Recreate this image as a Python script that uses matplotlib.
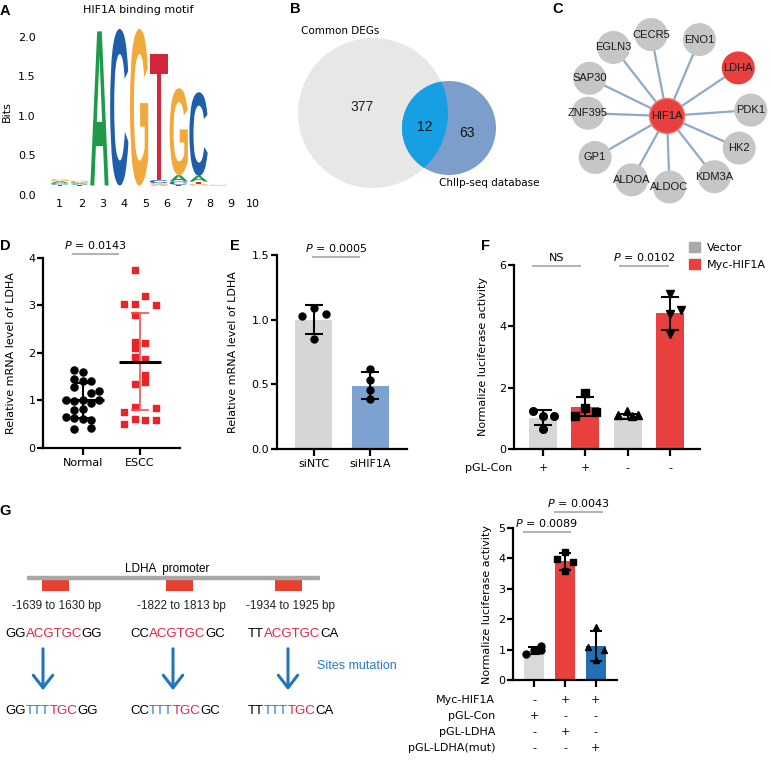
import matplotlib.pyplot as plt
import numpy as np
from matplotlib.patches import Circle, Rectangle, PathPatch, Patch
from matplotlib.textpath import TextPath
from matplotlib.font_manager import FontProperties
from matplotlib.transforms import Affine2D

# ---------------- data ----------------
# A: HIF1A binding motif (bits per letter, positions 1-10)
motif_pos = np.arange(1, 11)
motif_A = [0.025, 0.015, 1.95, 0, 0, 0.01, 0.08, 0.07, 0.003, 0]
motif_C = [0.02, 0.015, 0, 1.98, 0, 0.04, 0.04, 1.06, 0.003, 0]
motif_G = [0.025, 0.02, 0, 0, 1.98, 0.02, 1.10, 0.02, 0.003, 0]
motif_T = [0.01, 0.01, 0, 0, 0, 1.60, 0.01, 0.03, 0.003, 0]
motif_floor = 0.12

# B: venn
venn_counts = [377, 12, 63]  # DEGs only, overlap, ChIP only
venn_names = ['Common DEGs', 'Chllp-seq database']

# C: network
hub = 'HIF1A'
net_nodes = ['CECR5', 'ENO1', 'LDHA', 'PDK1', 'HK2', 'KDM3A', 'ALDOC',
             'ALDOA', 'GP1', 'ZNF395', 'SAP30', 'EGLN3']
net_hits = ['LDHA']

# D: LDHA mRNA, normal vs ESCC
d_groups = ['Normal', 'ESCC']
d_normal = [1.64, 1.61, 1.45, 1.41, 1.41, 1.29, 1.20, 1.15, 1.02, 1.00, 1.00,
            0.98, 0.94, 0.83, 0.80, 0.66, 0.64, 0.62, 0.58, 0.42, 0.39]
d_escc = [3.75, 3.21, 3.04, 3.04, 3.01, 2.80, 2.24, 2.22, 2.10, 1.91, 1.87,
          1.54, 1.34, 1.38, 0.87, 0.85, 0.76, 0.51, 0.61, 0.59, 0.59]
d_p = '0.0143'

# E: siRNA
e_groups = ['siNTC', 'siHIF1A']
e_mean = [1.00, 0.49]
e_sd = [0.11, 0.107]
e_pts = [[1.03, 1.09, 1.04, 0.85], [0.62, 0.535, 0.46, 0.385]]
e_p = '0.0005'

# F: luciferase, pGL-Con
f_series = ['Vector', 'Myc-HIF1A', 'Vector', 'Myc-HIF1A']
f_pglcon = ['+', '+', '-', '-']
f_mean = [1.02, 1.37, 1.05, 4.42]
f_sd = [0.24, 0.31, 0.08, 0.53]
f_pts = [[1.24, 1.09, 1.09, 0.65], [1.82, 1.35, 1.09, 1.21],
         [1.11, 1.24, 1.09, 1.11], [5.04, 4.39, 4.53, 3.74]]
f_p = ['NS', '0.0102']

# G: promoter sites + luciferase
site_labels = ['-1639 to 1630 bp', '-1822 to 1813 bp', '-1934 to 1925 bp']
wt_seqs = ['GGACGTGCGG', 'CCACGTGCGC', 'TTACGTGCCA']
mut_seqs = ['GGTTTTGCGG', 'CCTTTTGCGC', 'TTTTTTGCCA']
g_rows = ['Myc-HIF1A', 'pGL-Con', 'pGL-LDHA', 'pGL-LDHA(mut)']
g_signs = [['-', '+', '+'], ['+', '-', '-'], ['-', '+', '-'], ['-', '-', '+']]
g_mean = [0.97, 3.90, 1.12]
g_sd = [0.12, 0.27, 0.48]
g_pts = [[0.86, 0.99, 1.12, 1.00], [4.22, 3.97, 3.87, 3.58], [1.74, 1.08, 0.99, 0.66]]
g_p = ['0.0089', '0.0043']

# ---------------- figure ----------------
W, H = 771, 760
plt.rcParams['font.family'] = 'DejaVu Sans'
plt.rcParams['font.size'] = 8
plt.rcParams['mathtext.fontset'] = 'dejavusans'
fig = plt.figure(figsize=(W / 100, H / 100), dpi=100)

# overlay in pixel coords for drawings / annotations
ov = fig.add_axes([0, 0, 1, 1])
ov.set_xlim(0, W)
ov.set_ylim(H, 0)
ov.axis('off')


def px_axes(l, t, r, b):
    return fig.add_axes([l / W, 1 - b / H, (r - l) / W, (b - t) / H])


ARIAL = 'Liberation Sans'
GRAY = '#d6d6d6'
RED = '#e8403e'
LW = 1.6

for lab, x, y in [('A', 5, 11), ('B', 295, 9), ('C', 558, 9), ('D', 5, 246),
                  ('E', 235, 246), ('F', 485, 246), ('G', 5, 511)]:
    ov.text(x, y, lab, fontsize=10.5, fontweight='bold', family=ARIAL,
            ha='center', va='center')

# ---- A: sequence logo ----
axa = px_axes(40, 29, 258, 195)
logo_font = FontProperties(family=ARIAL, weight='bold')
logo_col = {'A': '#1f9a4b', 'C': '#1f5ea8', 'G': '#f2a93b', 'T': '#d4263b'}


def draw_letter(ax, ch, x, y, w, h, color):
    tp = TextPath((0, 0), ch, size=1, prop=logo_font)
    bb = tp.get_extents()
    tr = (Affine2D().translate(-bb.x0, -bb.y0)
          .scale(w / bb.width, h / bb.height).translate(x - w / 2, y))
    ax.add_patch(PathPatch(tr.transform_path(tp), fc=color, ec='none'))


for i, p in enumerate(motif_pos):
    stack = sorted([('A', motif_A[i]), ('C', motif_C[i]),
                    ('G', motif_G[i]), ('T', motif_T[i])], key=lambda s: s[1])
    y0 = motif_floor
    for ch, h in stack:
        if h > 0:
            draw_letter(axa, ch, p, y0, 0.92, h, logo_col[ch])
            y0 += h
axa.set_xlim(0, 11)
axa.set_ylim(0, 2.1)
axa.set_yticks([0, 0.5, 1.0, 1.5, 2.0], ['0.0', '0.5', '1.0', '1.5', '2.0'])
axa.set_xticks(1 + (motif_pos - 1) * 1.08, [str(p) for p in motif_pos])
axa.tick_params(length=0, labelsize=8, pad=3)
for s in axa.spines.values():
    s.set_visible(False)
axa.patch.set_visible(False)
axa.set_ylabel('Bits', fontsize=8)
axa.yaxis.set_label_coords(-0.13, 0.5)
ov.text(138, 10, 'HIF1A binding motif', ha='center', va='center', fontsize=8)

# ---- B: venn ----
big = Circle((373, 113), 75, fc='#e7e7e7', ec='none')
ov.add_patch(big)
ov.add_patch(Circle((449, 128), 47, fc='#7b9ecb', ec='none'))
inter = Circle((449, 128), 47, fc='#16a0e3', ec='none')
ov.add_patch(inter)
inter.set_clip_path(big)
ov.text(362, 107, str(venn_counts[0]), ha='center', va='center', fontsize=10, family=ARIAL, color='#222')
ov.text(425, 127, str(venn_counts[1]), ha='center', va='center', fontsize=10, family=ARIAL, color='#111')
ov.text(467, 133, str(venn_counts[2]), ha='center', va='center', fontsize=10, family=ARIAL, color='#111')
ov.text(340, 31, venn_names[0], ha='center', va='center', fontsize=7.5)
ov.text(489, 183, venn_names[1], ha='center', va='center', fontsize=7.5)

# ---- C: network ----
cx, cy = 667, 116
net_angle = [101, 67, 34, 4, -24, -52, -88, -119, -150, 178, 154, 128]
net_dist = [83, 83, 86, 84, 79, 77, 71, 73, 83, 79, 86, 87]
for name, a, r in zip(net_nodes, net_angle, net_dist):
    nx = cx + r * np.cos(np.radians(a))
    ny = cy - r * np.sin(np.radians(a))
    ov.plot([cx, nx], [cy, ny], color='#8ea9c9', lw=1.6, zorder=1)
    col = RED if name in net_hits else '#c6c6c6'
    ov.add_patch(Circle((nx, ny), 16.5, fc=col, ec='none', zorder=2))
    ov.text(nx, ny, name, ha='center', va='center', fontsize=8, family=ARIAL,
            color='#1a1a1a', zorder=3)
ov.add_patch(Circle((cx, cy), 17.5, fc=RED, ec='#f07a70', lw=1, zorder=2))
ov.text(cx, cy, hub, ha='center', va='center', fontsize=8, family=ARIAL,
        color='#1a1a1a', zorder=3)


# ---- helpers for GraphPad style panels ----
def prism(ax, ymax, yticks, ylabels, xt, xl, lab_x):
    for s in ['top', 'right']:
        ax.spines[s].set_visible(False)
    for s in ['left', 'bottom']:
        ax.spines[s].set_linewidth(LW)
    ax.spines['left'].set_bounds(0, ymax)
    ax.set_ylim(0, ymax)
    ax.set_yticks(yticks, ylabels)
    ax.set_xticks(xt, xl)
    ax.tick_params(axis='y', width=LW, length=4, labelsize=8, pad=1.5)
    ax.tick_params(axis='x', width=LW, length=5, labelsize=8, pad=2.5)
    ax.patch.set_visible(False)
    ax.yaxis.set_label_coords(lab_x, 0.5)


def pbar(x0, x1, y, label):
    ov.plot([x0, x1], [y, y], color='#b4b4b4', lw=1.5)
    ov.text((x0 + x1) / 2, y - 3, label, ha='center', va='bottom', fontsize=8)


# ---- D ----
axd = px_axes(43, 258, 180, 448)
axd.set_xlim(-0.7, 1.7)
n_jit = [-0.15, 0, -0.15, 0, 0.14, -0.15, 0.28, 0.14, -0.29, 0, 0.28,
         -0.15, 0.14, 0, -0.15, -0.29, -0.15, 0, 0.14, 0.14, -0.15]
e_jit = [-0.09, 0.09, -0.28, -0.09, 0.28, -0.09, -0.09, 0.09, -0.09, -0.09, 0.09,
         0.09, -0.09, 0.09, -0.09, 0.28, -0.28, -0.28, -0.09, 0.09, 0.28]
axd.scatter(np.array(n_jit), d_normal, s=26, marker='o', color='black', zorder=3, clip_on=False)
axd.scatter(1 + np.array(e_jit), d_escc, s=20, marker='s', color='#e8232a', zorder=3, clip_on=False)
for x, vals, col, lw in [(0, d_normal, 'black', 1.5), (1, d_escc, '#e85555', 1.2)]:
    m, sd = np.mean(vals), np.std(vals, ddof=1)
    axd.errorbar(x, m, yerr=sd, color=col, lw=lw, capsize=6.5, capthick=lw, zorder=4)
    axd.plot([x - 0.36, x + 0.36], [m, m], color='black', lw=2.2, zorder=5, solid_capstyle='butt')
prism(axd, 4, [0, 1, 2, 3, 4], ['0', '1', '2', '3', '4'], [0, 1], d_groups, -0.2)
axd.set_ylabel('Relative mRNA level of LDHA', fontsize=8)
pbar(73, 118, 254, '$P$ = ' + d_p)


# ---- bar panel helper ----
def bars(ax, means, sds, pts, colors, markers, jit, width, ms, cap):
    x = np.arange(len(means))
    ax.bar(x, means, width=width, color=colors, zorder=1)
    for i in x:
        ax.errorbar(i, means[i], yerr=sds[i], color='black', lw=1.5,
                    capsize=cap, capthick=1.5, zorder=3)
        ax.plot(i + np.array(jit[i]), pts[i], ls='none', marker=markers[i],
                ms=ms, color='black', zorder=4, clip_on=False)


# ---- E ----
axe = px_axes(277, 255, 407, 449)
axe.set_xlim(-0.66, 1.66)
bars(axe, e_mean, e_sd, e_pts, [GRAY, '#7ca2d2'], ['o', 'o'],
     [[-0.21, 0, 0.21, 0], [0, 0, 0, 0]], 0.66, 5, 6.5)
prism(axe, 1.5, [0, 0.5, 1.0, 1.5], ['0.0', '0.5', '1.0', '1.5'], [0, 1], e_groups, -0.3)
axe.set_ylabel('Relative mRNA level of LDHA', fontsize=8)
pbar(313, 359, 257, '$P$ = ' + e_p)

# ---- F ----
axf = px_axes(514, 265, 700, 449)
axf.set_xlim(-0.69, 3.71)
f_cols = [GRAY if s == 'Vector' else RED for s in f_series]
bars(axf, f_mean, f_sd, f_pts, f_cols, ['o', 's', '^', 'v'],
     [[-0.24, 0, 0.25, 0], [0, 0, -0.24, 0.26], [-0.24, -0.02, 0.1, 0.25], [0, 0, 0.26, 0]],
     0.66, 5.5, 6.5)
prism(axf, 6, [0, 2, 4, 6], ['0', '2', '4', '6'], [0, 1, 2, 3], ['', '', '', ''], -0.14)
axf.set_ylabel('Normalize luciferase activity', fontsize=8)
for i, s in enumerate(f_pglcon):
    axf.text(i, -0.105, s, transform=axf.get_xaxis_transform(), ha='center', va='center', fontsize=8)
axf.text(-0.01, -0.105, 'pGL-Con', transform=axf.transAxes, ha='right', va='center', fontsize=8)
pbar(533, 580, 266, f_p[0])
pbar(620, 668, 266, '$P$ = ' + f_p[1])
fig.legend(handles=[Patch(color='#a9a9a9', label='Vector'), Patch(color=RED, label='Myc-HIF1A')],
           loc='upper left', bbox_to_anchor=(689 / W, 1 - 242 / H), frameon=False,
           handlelength=1.0, handleheight=1.0, handletextpad=0.6, labelspacing=0.6,
           fontsize=8, borderaxespad=0, borderpad=0)

# ---- G right ----
axg = px_axes(513, 528, 617, 680)
axg.set_xlim(-0.68, 2.68)
bars(axg, g_mean, g_sd, g_pts, ['#d9d9d9', RED, '#2170b5'], ['o', 's', '^'],
     [[-0.25, 0, 0.24, 0.24], [0, -0.25, 0.25, 0], [0, -0.26, 0.25, 0]],
     0.65, 5, 4.5)
prism(axg, 5, [0, 1, 2, 3, 4, 5], ['0', '1', '2', '3', '4', '5'], [0, 1, 2], ['', '', ''], -0.2)
axg.set_ylabel('Normalize luciferase activity', fontsize=8)
for r, (name, signs) in enumerate(zip(g_rows, g_signs)):
    yy = -0.13 - r * 0.106
    axg.text(-0.17, yy, name, transform=axg.transAxes, ha='right', va='center', fontsize=8)
    for i, s in enumerate(signs):
        axg.text(i, yy, s, transform=axg.get_xaxis_transform(), ha='center', va='center', fontsize=8)
pbar(524, 570, 532, '$P$ = ' + g_p[0])
pbar(555, 602, 512, '$P$ = ' + g_p[1])

# ---- G left: promoter diagram ----
ov.plot([27, 320], [578, 578], color='#a8a8a8', lw=3.2, solid_capstyle='butt')
ov.text(167, 569, 'LDHA  promoter', ha='center', va='center', fontsize=8.5, family=ARIAL)
SEQ_RED, SEQ_BLUE = '#e3233f', '#2a7ac4'
site_x = [55, 179, 288]
seq_x = [5, 130, 248]


def seq_text(x, y, parts):
    t = ov.text(x, y, parts[0][0], color=parts[0][1], ha='left', va='bottom',
                fontsize=9.5, family=ARIAL)
    for s, c in parts[1:]:
        t = ov.annotate(s, xy=(1, 0), xycoords=t, ha='left', va='bottom',
                        color=c, fontsize=9.5, family=ARIAL)


for k in range(3):
    ov.add_patch(Rectangle((site_x[k] - 13.5, 580), 27, 11, fc='#e8402e', ec='none'))
    ov.text(site_x[k] + 2, 606, site_labels[k], ha='center', va='center', fontsize=8.5,
            family=ARIAL, color='#222')
    w, m = wt_seqs[k], mut_seqs[k]
    seq_text(seq_x[k], 640, [(w[:2], 'black'), (w[2:8], SEQ_RED), (w[8:], 'black')])
    seq_text(seq_x[k], 717, [(m[:2], 'black'), (m[2:5], SEQ_BLUE), (m[5:8], SEQ_RED), (m[8:], 'black')])
    ax_x = [43, 173, 288][k]
    ov.annotate('', xy=(ax_x, 693), xytext=(ax_x, 646),
                arrowprops=dict(arrowstyle='->,head_length=0.45,head_width=0.35',
                                color='#2474b8', lw=2.2, mutation_scale=20))
ov.text(317, 666, 'Sites mutation', ha='left', va='center', fontsize=9, family=ARIAL, color='#2a7ac4')

fig.savefig('out.png', dpi=100)
